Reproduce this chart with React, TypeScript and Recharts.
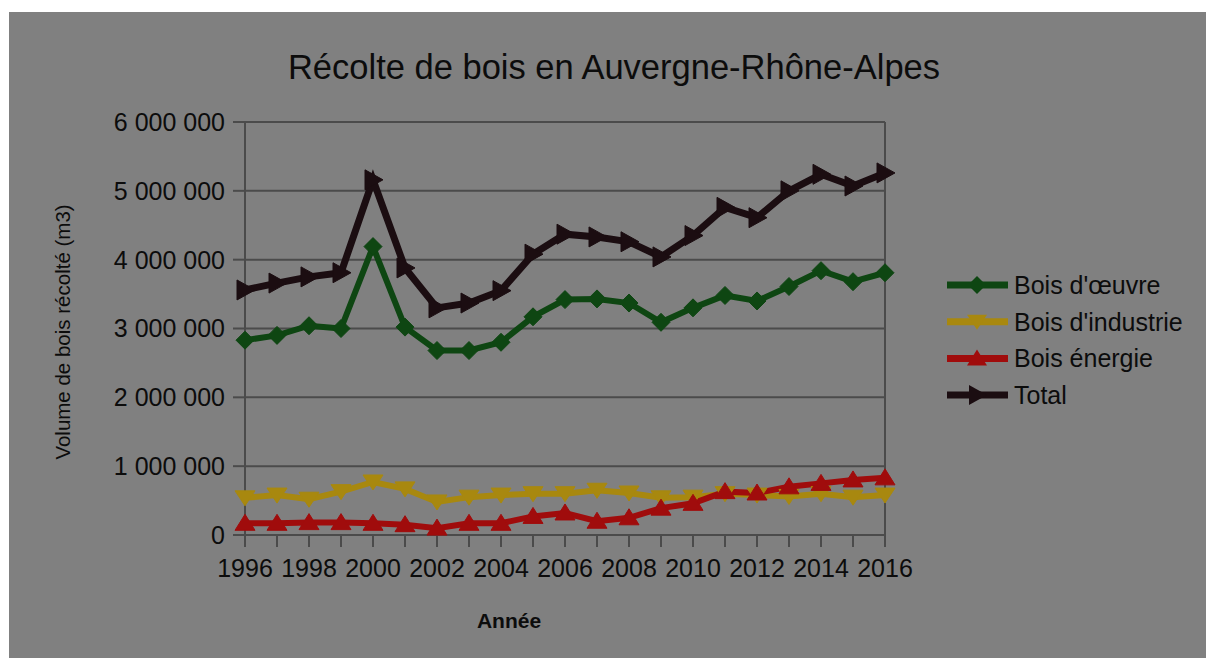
import { LineChart, Line, XAxis, YAxis, CartesianGrid, ReferenceLine } from 'recharts';

const years = [1996, 1997, 1998, 1999, 2000, 2001, 2002, 2003, 2004, 2005, 2006, 2007, 2008, 2009, 2010, 2011, 2012, 2013, 2014, 2015, 2016];
const boisOeuvre = [2830000, 2900000, 3040000, 3000000, 4190000, 3020000, 2680000, 2680000, 2800000, 3170000, 3420000, 3430000, 3370000, 3090000, 3300000, 3480000, 3400000, 3610000, 3840000, 3680000, 3810000];
const boisIndustrie = [540000, 580000, 520000, 630000, 770000, 670000, 480000, 550000, 580000, 600000, 600000, 650000, 610000, 540000, 550000, 600000, 580000, 560000, 600000, 550000, 580000];
const boisEnergie = [170000, 170000, 180000, 180000, 170000, 150000, 100000, 170000, 170000, 270000, 320000, 200000, 250000, 390000, 460000, 630000, 610000, 700000, 750000, 800000, 830000];
const total = [3560000, 3660000, 3750000, 3810000, 5160000, 3880000, 3300000, 3370000, 3550000, 4080000, 4370000, 4330000, 4260000, 4040000, 4350000, 4760000, 4610000, 5000000, 5240000, 5070000, 5260000];
const yTicks = [0, 1000000, 2000000, 3000000, 4000000, 5000000, 6000000];

const seriesNames = ["Bois d'œuvre", "Bois d'industrie", 'Bois énergie', 'Total'];

const data = years.map((year, i) => ({
  year,
  oeuvre: boisOeuvre[i],
  industrie: boisIndustrie[i],
  energie: boisEnergie[i],
  total: total[i],
}));

const FONT = '"Liberation Sans", Arial, sans-serif';
const GRID = '#4b4b4b';

type Shape = 'diamond' | 'down' | 'up' | 'right';

const markerPath = (shape: Shape, x: number, y: number) => {
  switch (shape) {
    case 'diamond':
      return `M${x},${y - 9} L${x + 9},${y} L${x},${y + 9} L${x - 9},${y} Z`;
    case 'down':
      return `M${x - 10},${y - 7} L${x + 10},${y - 7} L${x},${y + 8} Z`;
    case 'up':
      return `M${x - 10},${y + 7} L${x + 10},${y + 7} L${x},${y - 9} Z`;
    default:
      return `M${x - 8},${y - 10} L${x + 10},${y} L${x - 8},${y + 10} Z`;
  }
};

const series = [
  { key: 'oeuvre', name: seriesNames[0], color: '#0e4612', shape: 'diamond' as Shape, width: 6 },
  { key: 'industrie', name: seriesNames[1], color: '#a8880f', shape: 'down' as Shape, width: 6 },
  { key: 'energie', name: seriesNames[2], color: '#a00c0c', shape: 'up' as Shape, width: 6 },
  { key: 'total', name: seriesNames[3], color: '#1b0d11', shape: 'right' as Shape, width: 7 },
];

const fmt = (v: number) => String(v).replace(/\B(?=(\d{3})+(?!\d))/g, ' ');

const makeDot = (shape: Shape, color: string) => (props: any) => {
  const { cx, cy, index } = props;
  if (cx == null || cy == null) return <g key={index} />;
  return <path key={index} d={markerPath(shape, cx, cy)} fill={color} stroke={color} strokeWidth={1} />;
};

export default function App() {
  return (
    <div style={{ position: 'absolute', left: 0, top: 0, width: 1206, height: 658, background: '#fff', overflow: 'hidden' }}>
      <div style={{ position: 'absolute', left: 9, top: 12, width: 1197, height: 646, background: '#808080' }} />
      <div style={{ position: 'absolute', left: 0, top: 0 }}>
        <LineChart width={1206} height={658} data={data} margin={{ top: 122, right: 321, bottom: 78, left: 105 }}>
          <CartesianGrid vertical={false} stroke={GRID} strokeWidth={2} />
          <XAxis
            dataKey="year"
            interval={0}
            height={45}
            tickFormatter={(v: number) => (v % 2 === 0 ? String(v) : '')}
            tickSize={12}
            tickMargin={12}
            tick={{ fill: '#0c0c0c', fontSize: 25, fontFamily: FONT }}
            axisLine={{ stroke: GRID, strokeWidth: 2 }}
            tickLine={{ stroke: GRID, strokeWidth: 2 }}
          />
          <YAxis
            width={140}
            domain={[0, 6000000]}
            ticks={yTicks}
            tickFormatter={fmt}
            tickSize={12}
            tickMargin={8}
            tick={{ fill: '#0c0c0c', fontSize: 25, fontFamily: FONT }}
            axisLine={{ stroke: GRID, strokeWidth: 2 }}
            tickLine={{ stroke: GRID, strokeWidth: 2 }}
          />
          <ReferenceLine x={2016} stroke={GRID} strokeWidth={2} />
          {series.map((s) => (
            <Line
              key={s.key}
              dataKey={s.key}
              name={s.name}
              stroke={s.color}
              strokeWidth={s.width}
              dot={makeDot(s.shape, s.color)}
              activeDot={false}
              isAnimationActive={false}
            />
          ))}
        </LineChart>
      </div>
      <svg width={1206} height={658} style={{ position: 'absolute', left: 0, top: 0, pointerEvents: 'none' }}>
        <text x={614} y={79} textAnchor="middle" fontFamily={FONT} fontSize={34.5} fill="#0c0c0c">
          Récolte de bois en Auvergne-Rhône-Alpes
        </text>
        <text
          x={62}
          y={332}
          textAnchor="middle"
          dominantBaseline="central"
          transform="rotate(-90 62 332)"
          fontFamily={FONT}
          fontSize={20.5}
          fill="#0c0c0c"
        >
          Volume de bois récolté (m3)
        </text>
        <text x={509} y={620} textAnchor="middle" dominantBaseline="central" fontFamily={FONT} fontSize={21} fontWeight="bold" fill="#0c0c0c">
          Année
        </text>
        {series.map((s, i) => {
          const y = 285 + i * 36.7;
          return (
            <g key={s.key}>
              <line x1={947} x2={1008} y1={y} y2={y} stroke={s.color} strokeWidth={7} />
              <path d={markerPath(s.shape, 977, y)} fill={s.color} />
              <text x={1014} y={y} dominantBaseline="central" fontFamily={FONT} fontSize={25} fill="#0c0c0c">
                {s.name}
              </text>
            </g>
          );
        })}
      </svg>
    </div>
  );
}
